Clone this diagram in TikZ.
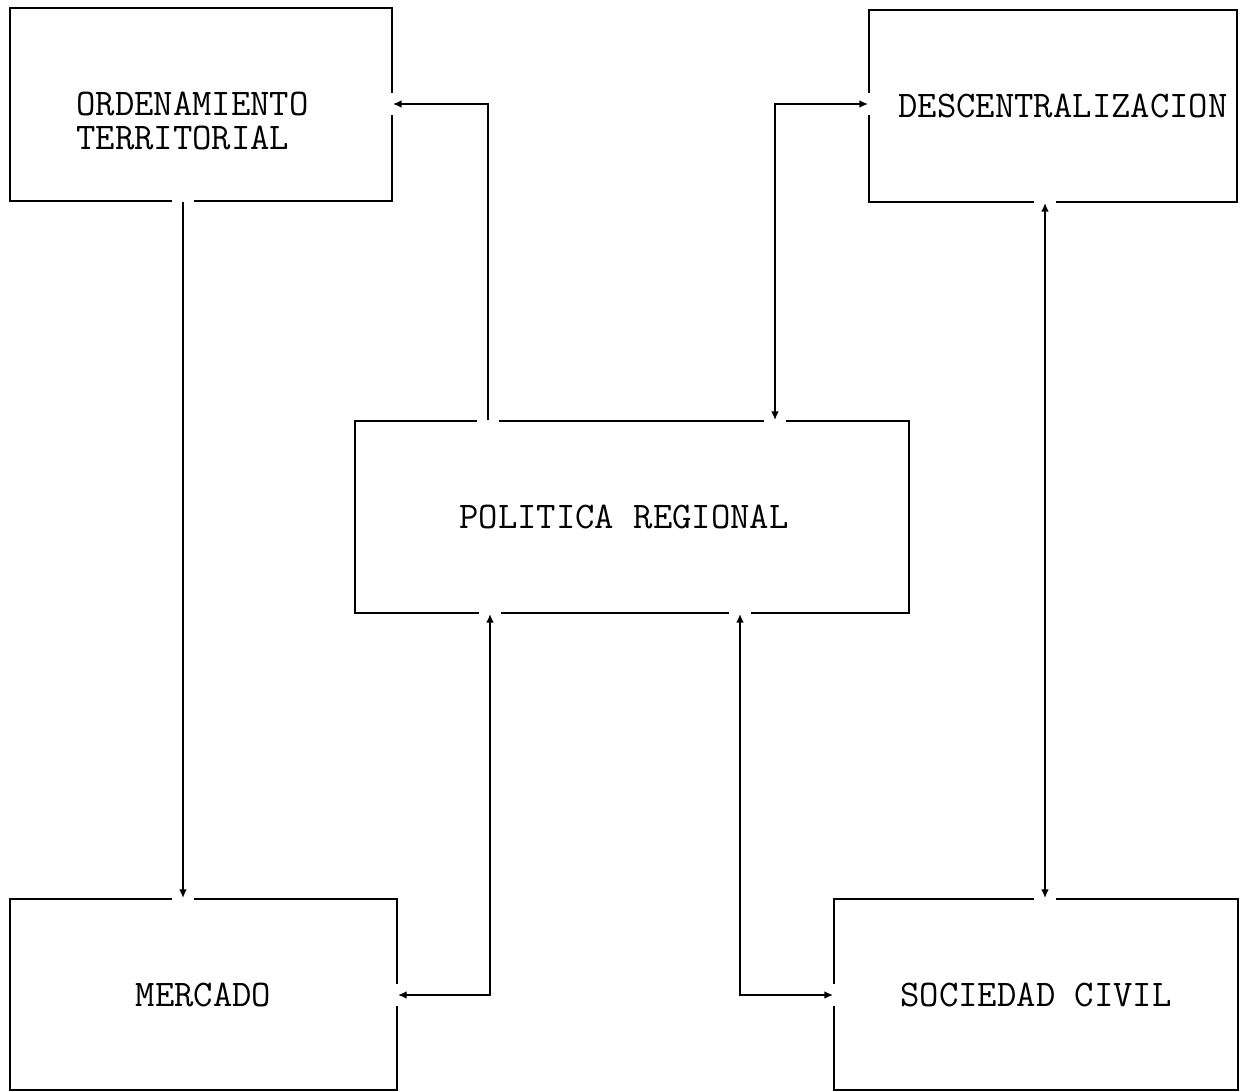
\documentclass[tikz,border=0pt]{standalone}
\usepackage{tikz}
\usetikzlibrary{arrows.meta,positioning}

\begin{document}
\begin{tikzpicture}[x=0.02cm, y=-0.02cm,
		box/.style={draw, line width=1.1pt, inner sep=0pt, align=left,
			font=\ttfamily\fontsize{21.4}{19.35}\selectfont},
		gap/.style={preaction={draw=white, line width=0.45cm, line cap=rect, arrows=-}},
		arr/.style={gap, line width=1.1pt, -{Latex[length=5pt,width=4.5pt]}},
		both/.style={gap, line width=1.1pt, {Latex[length=5pt,width=4.5pt]}-{Latex[length=5pt,width=4.5pt]}}]
			\useasboundingbox (0,0) rectangle (1242,1092);
			\node[box, minimum width=7.64cm, minimum height=3.86cm] (ord) at (201,104.5) {\rule{0pt}{1.13cm}ORDENAMIENTO\hspace*{0.34cm}\\TERRITORIAL};
			\node[box, minimum width=7.36cm, minimum height=3.84cm] (desc) at (1053,106) {\hspace*{0.4cm}DESCENTRALIZACION};
			\node[box, minimum width=11.08cm, minimum height=3.84cm] (pol) at (632,517) {POLITICA REGIONAL\hspace*{0.32cm}};
			\node[box, minimum width=7.74cm, minimum height=3.82cm] (mer) at (203.5,994.5) {MERCADO};
			\node[box, minimum width=8.08cm, minimum height=3.82cm] (soc) at (1036,994.5) {SOCIEDAD CIVIL};
			\coordinate (lx1) at (183,0);
			\coordinate (lx2) at (1045,0);
			\coordinate (up1) at (488,104);
			\coordinate (up2) at (775,104);
			\coordinate (dn1) at (490,995);
			\coordinate (dn2) at (740,995);
			\draw[arr] (ord.south -| lx1) -- (mer.north -| lx1);
			\draw[arr] (pol.north -| up1) |- (ord.east |- up1);
			\draw[both] (pol.north -| up2) |- (desc.west |- up2);
			\draw[both] (soc.north -| lx2) -- (desc.south -| lx2);
			\draw[both] (pol.south -| dn1) |- (mer.east |- dn1);
			\draw[both] (pol.south -| dn2) |- (soc.west |- dn2);
		\end{tikzpicture}
\end{document}
